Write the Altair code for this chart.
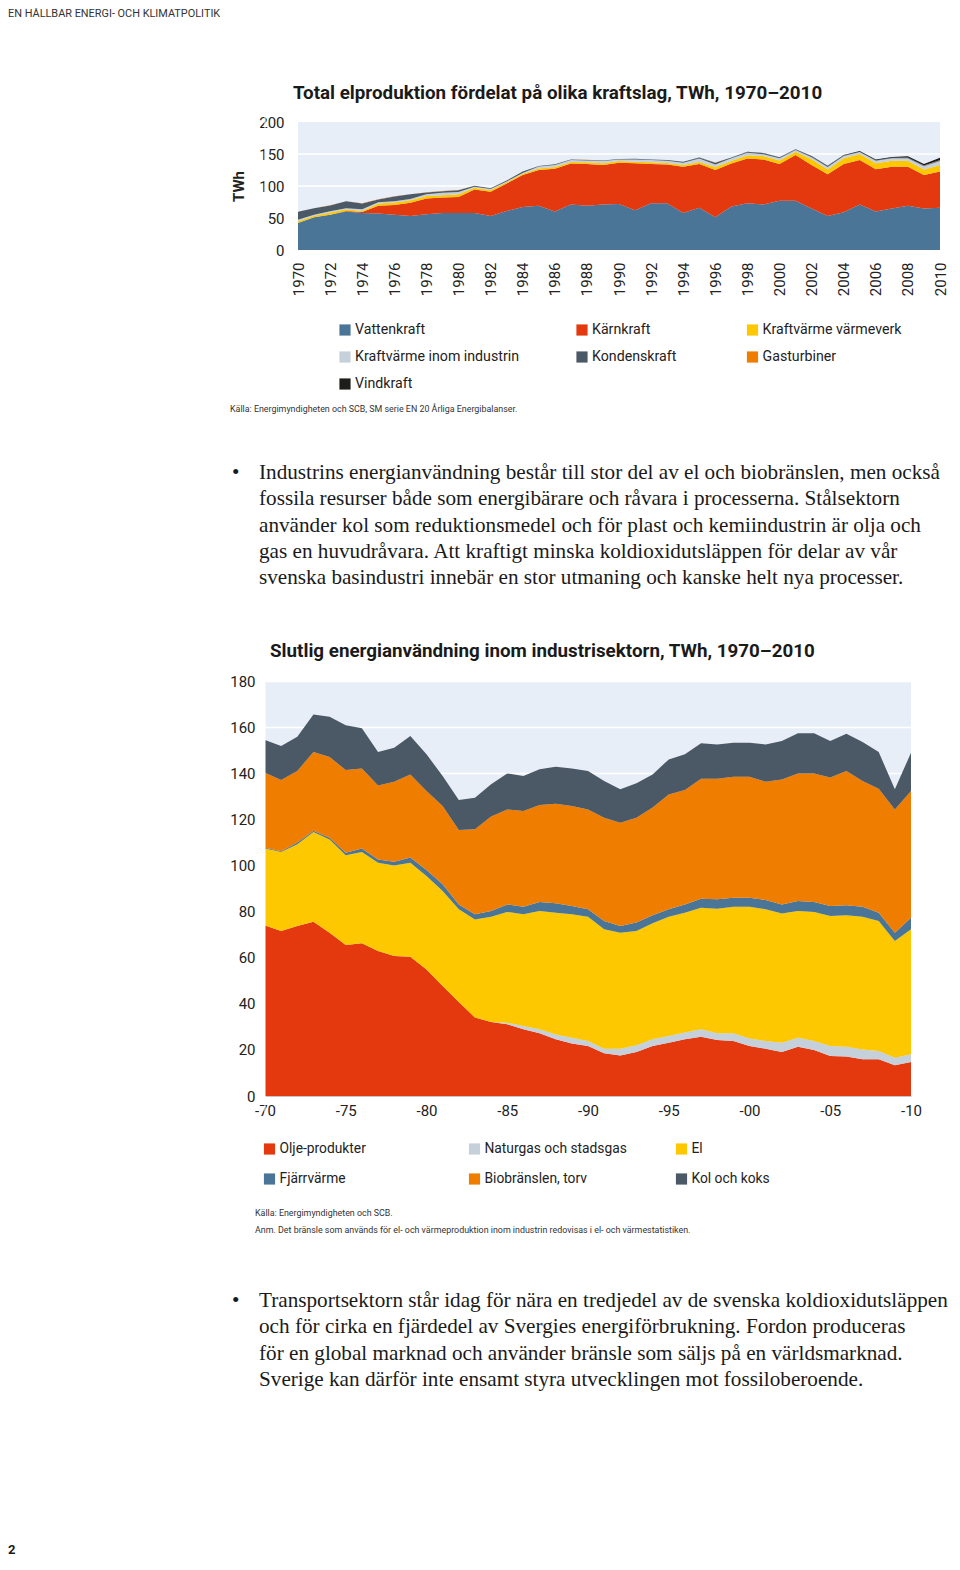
import altair as alt
import pandas as pd

years = list(range(1970, 2011))

# ---------- Chart 1: Total elproduktion (TWh), stacked bottom -> top ----------
top_series = ["Vattenkraft", "Kärnkraft", "Kraftvärme värmeverk",
              "Kraftvärme inom industrin", "Kondenskraft", "Gasturbiner", "Vindkraft"]
top_colors = ["#4b7597", "#e4380f", "#fdc800", "#c5d0da", "#4b5865", "#ef7d00", "#1d1d1b"]

vattenkraft = [42, 51, 55, 60, 58, 57, 55, 53, 56, 58,
               58, 58, 53, 61, 67, 69, 60, 71, 69, 71,
               72, 62, 73, 73, 58, 66, 51, 68, 73, 71,
               77, 77, 65, 53, 59, 71, 60, 65, 69, 65,
               66]
karnkraft = [0, 0, 0, 1, 1.5, 12, 15.5, 21, 24.5, 24,
             25, 36.5, 38, 43, 50, 56, 67, 64, 65.5, 62,
             64.5, 73.5, 61.5, 60.5, 72, 68.5, 74, 67, 70, 70.5,
             57.5, 71.5, 68, 65.5, 75.5, 69.5, 66, 65, 61, 52,
             56.5]
kraftvarme_varmeverk = [3, 2.6, 3.6, 2.5, 1.6, 3.6, 3.7, 3.6, 3.7, 3.6,
                        4.2, 2.6, 2.6, 2, 2, 2.5, 2.5, 2.5, 2.5, 2.5,
                        2.5, 2.5, 2.5, 2.5, 3, 3, 4.5, 4.2, 5.2, 5.2,
                        5.2, 5.2, 8.9, 7.3, 8.8, 9.4, 9.4, 9.4, 9.4, 8.8,
                        10.4]
kraftvarme_industri = [2.1, 1.6, 2.1, 1.6, 2.7, 2.1, 2, 2.1, 3.1, 3.7,
                       3.6, 1.6, 1.6, 1, 1.5, 3, 3.5, 3, 3, 3.5,
                       2.5, 3.5, 3.5, 3.5, 3.5, 5.5, 4, 4, 3.6, 3.1,
                       3.6, 2.6, 3.1, 4, 3.7, 3.1, 4, 4, 4, 5,
                       6]
kondenskraft = [12.5, 9.9, 8.9, 10.9, 8.8, 4.2, 7.3, 7.3, 2.6, 2.6,
                2.6, 1.5, 1.1, 1.5, 2, 0.8, 0.8, 0.8, 0.8, 0.8,
                0.5, 1, 1, 1, 1.2, 1.2, 3, 1.2, 1.2, 1.2,
                1.2, 0.6, 1, 1, 0.6, 0.6, 0.8, 0.6, 1, 1,
                1.5]
gasturbiner = [0.1, 0.1, 0.2, 0.2, 0.3, 0.3, 0.3, 0.3, 0.2, 0.2,
               0.2, 0.1, 0.1, 0.1, 0.1, 0.1, 0.1, 0.1, 0.1, 0.1,
               0.1, 0.1, 0.1, 0.1, 0.1, 0.1, 0.1, 0.1, 0.1, 0.1,
               0.1, 0.1, 0.1, 0.1, 0.1, 0.1, 0.1, 0.1, 0.1, 0.1,
               0.1]
vindkraft = [0, 0, 0, 0, 0, 0, 0, 0, 0, 0,
             0, 0, 0, 0, 0, 0, 0, 0, 0, 0,
             0, 0, 0, 0.1, 0.1, 0.1, 0.1, 0.2, 0.3, 0.4,
             0.4, 0.5, 0.6, 0.6, 0.9, 0.9, 1.0, 1.4, 2.0, 2.5,
             3.5]
top_values = [vattenkraft, karnkraft, kraftvarme_varmeverk, kraftvarme_industri,
              kondenskraft, gasturbiner, vindkraft]

# ---------- Chart 2: Slutlig energianvändning inom industrisektorn (TWh) ----------
bot_series = ["Olje-produkter", "Naturgas och stadsgas", "El",
              "Fjärrvärme", "Biobränslen, torv", "Kol och koks"]
bot_colors = ["#e4380f", "#c5d0da", "#fdc800", "#4b7597", "#ef7d00", "#4b5865"]

olje = [74.0, 71.6, 73.7, 75.6, 70.8, 65.5, 66.2, 62.9, 60.7, 60.4,
        54.9, 47.7, 40.8, 34.0, 32.1, 31.1, 28.9, 27.2, 24.6, 22.8,
        21.7, 18.5, 17.6, 19.1, 21.7, 23.1, 24.6, 25.7, 24.3, 23.9,
        21.7, 20.5, 19.1, 21.4, 20.0, 17.3, 17.1, 15.9, 15.9, 13.3,
        14.7]
naturgas = [0, 0, 0, 0, 0, 0, 0, 0, 0, 0,
            0, 0, 0, 0, 0, 0.7, 1.5, 1.7, 2.1, 2.5,
            2.2, 2.0, 2.9, 2.9, 2.9, 2.9, 2.9, 3.2, 2.9, 3.3,
            3.2, 3.4, 4.0, 3.9, 3.9, 4.4, 4.3, 4.3, 3.6, 3.3,
            3.4]
el = [33.4, 34.2, 35.5, 38.9, 40.5, 38.9, 39.6, 38.3, 39.3, 40.8,
      40.5, 41.2, 40.2, 42.6, 45.7, 48.0, 48.4, 51.3, 52.8, 53.5,
      53.9, 51.8, 50.3, 49.6, 50.3, 51.8, 52.0, 52.8, 54.0, 54.9,
      57.2, 57.1, 56.1, 54.9, 55.9, 56.4, 57.0, 57.6, 56.4, 50.6,
      54.2]
fjarrvarme = [0.3, 0.4, 0.7, 0.6, 0.7, 1.1, 1.5, 1.4, 1.6, 2.2,
              2.6, 2.9, 2.1, 2.2, 2.4, 3.3, 3.3, 3.9, 4.1, 3.6,
              3.2, 3.6, 2.9, 3.6, 3.5, 3.2, 3.6, 3.9, 4.1, 3.9,
              3.9, 4.0, 3.9, 4.4, 4.3, 4.3, 4.3, 4.3, 3.6, 3.6,
              5.0]
biobranslen = [32.5, 30.9, 31.1, 34.1, 35.0, 35.9, 34.7, 32.1, 34.7, 36.1,
               34.3, 34.0, 32.3, 36.9, 41.0, 41.2, 41.5, 42.1, 43.2, 43.4,
               43.3, 44.8, 44.8, 45.5, 46.7, 49.8, 49.6, 52.0, 52.3, 52.5,
               52.5, 51.3, 54.2, 55.3, 55.8, 55.7, 58.3, 54.5, 53.8, 53.5,
               55.0]
kol_koks = [14.2, 14.7, 14.8, 16.3, 17.5, 19.4, 17.5, 14.5, 14.8, 16.6,
            15.9, 13.0, 13.0, 13.7, 14.0, 15.6, 15.2, 15.5, 16.0, 16.2,
            16.7, 15.9, 14.5, 14.9, 14.4, 15.2, 15.5, 15.4, 14.9, 14.7,
            14.7, 16.2, 16.7, 17.4, 17.4, 15.9, 16.1, 16.9, 15.9, 8.7,
            16.6]
bot_values = [olje, naturgas, el, fjarrvarme, biobranslen, kol_koks]

top_domain_x = [1970, 2010]
top_domain_y = [0, 200]
bot_domain_x = [1970, 2010]
bot_domain_y = [0, 180]
top_ticks_x = list(range(1970, 2011, 2))
top_ticks_y = [0, 50, 100, 150, 200]
top_grid_y = [50, 100, 150]
bot_ticks_x = list(range(1970, 2011, 5))
bot_ticks_y = [0, 20, 40, 60, 80, 100, 120, 140, 160, 180]

# ---------- texts ----------
header_text = "EN HÅLLBAR ENERGI- OCH KLIMATPOLITIK"
title_top = "Total elproduktion fördelat på olika kraftslag, TWh, 1970–2010"
title_bot = "Slutlig energianvändning inom industrisektorn, TWh, 1970–2010"
source_top = "Källa: Energimyndigheten och SCB, SM serie EN 20 Årliga Energibalanser."
source_bot = "Källa: Energimyndigheten och SCB."
note_bot = ("Anm. Det bränsle som används för el- och värmeproduktion inom industrin "
            "redovisas i el- och värmestatistiken.")
para1 = ("Industrins energianvändning består till stor del av el och biobränslen, men också\n"
         "fossila resurser både som energibärare och råvara i processerna. Stålsektorn\n"
         "använder kol som reduktionsmedel och för plast och kemiindustrin är olja och\n"
         "gas en huvudråvara. Att kraftigt minska koldioxidutsläppen för delar av vår\n"
         "svenska basindustri innebär en stor utmaning och kanske helt nya processer.")
para2 = ("Transportsektorn står idag för nära en tredjedel av de svenska koldioxidutsläppen\n"
         "och för cirka en fjärdedel av Svergies energiförbrukning. Fordon produceras\n"
         "för en global marknad och använder bränsle som säljs på en världsmarknad.\n"
         "Sverige kan därför inte ensamt styra utvecklingen mot fossiloberoende.")
page_no = "2"

BG = "#e8eef7"
SANS = "Roboto"
SERIF = "Liberation Serif"
INK = "#222222"
PARA_SIZE = 21.2
PARA_LH = 26.3


def long_df(series, arrays, field):
    rows = []
    for k, (name, vals) in enumerate(zip(series, arrays)):
        for yr, v in zip(years, vals):
            rows.append({"year": yr, field: name, "value": v, "ord": k})
    return pd.DataFrame(rows)


def txt(text, x, y, size, font=SANS, weight="normal", color=INK,
        align="left", baseline="middle", line_height=None):
    mk = dict(align=align, baseline=baseline, font=font, fontSize=size,
              fontWeight=weight, color=color)
    if line_height:
        mk.update(lineBreak="\n", lineHeight=line_height)
    return alt.Chart(pd.DataFrame({"t": [text]})).mark_text(**mk).encode(
        x=alt.value(x), y=alt.value(y), text="t:N")


def anchor(x, y1, y2):
    # white layout anchor that fixes the panel's vertical bounds
    return alt.Chart(pd.DataFrame({"a": [0]})).mark_rule(color="white", strokeWidth=1).encode(
        x=alt.value(x), x2=alt.value(x), y=alt.value(y1), y2=alt.value(y2))


def legend(series, colors, field, xs, ys, rows_dom, size=14):
    n = len(series)
    df = pd.DataFrame({field: series,
                       "col": [i % 3 for i in range(n)],
                       "row": [i // 3 for i in range(n)]})
    xenc = alt.X("col:Q", scale=alt.Scale(domain=[0, 1, 2], range=xs, nice=False, zero=False), axis=None)
    yenc = alt.Y("row:Q", scale=alt.Scale(domain=rows_dom, range=ys, nice=False, zero=False), axis=None)
    sq = alt.Chart(df).mark_square(size=125, opacity=1).encode(
        x=xenc, y=yenc,
        color=alt.Color(f"{field}:N", scale=alt.Scale(domain=series, range=colors), legend=None))
    lab = alt.Chart(df).mark_text(align="left", baseline="middle", dx=10, font=SANS,
                                  fontSize=size, color=INK).encode(x=xenc, y=yenc, text=f"{field}:N")
    return [sq, lab]


# Column origin (x = 0) of every row = left edge of chart 2's plot area.

# ---------- Row 1: header + title of chart 1 ----------
row1 = alt.layer(
    txt(header_text, -257, 0, 10.9, color="#333333", baseline="top"),
    txt(title_top, 28, 85, 18.8, weight="bold", color="#1a1a1a"),
).properties(width=660, height=103)

# ---------- Row 2: chart 1 (plot area shifted 33 px right through the x range) ----------
top_xscale = alt.Scale(domain=top_domain_x, range=[33, 675], nice=False, zero=False)
top_yscale = alt.Scale(domain=top_domain_y, nice=False, zero=False)
top_xaxis = alt.Axis(values=top_ticks_x, format="d", labelAngle=-90, labelPadding=12,
                     labelOverlap=False, labelFlush=False, ticks=False, domain=False,
                     grid=False, title=None, labelFont=SANS, labelFontSize=15, labelColor=INK)
top_yaxis = alt.Axis(values=top_ticks_y, offset=-33, labelPadding=14, ticks=False, domain=False,
                     grid=False, title="TWh", titleFont=SANS, titleFontSize=15,
                     titleFontWeight="bold", titleColor=INK, titlePadding=12,
                     labelFont=SANS, labelFontSize=15, labelColor=INK)

top_bg = alt.Chart(pd.DataFrame({"x0": [top_domain_x[0]], "x1": [top_domain_x[1]],
                                 "y0": [top_domain_y[0]], "y1": [top_domain_y[1]]})).mark_rect(
    color=BG).encode(
    x=alt.X("x0:Q", scale=top_xscale, axis=top_xaxis), x2="x1:Q",
    y=alt.Y("y0:Q", scale=top_yscale, axis=top_yaxis), y2="y1:Q")
top_grid = alt.Chart(pd.DataFrame({"v": top_grid_y, "x0": [top_domain_x[0]] * len(top_grid_y),
                                   "x1": [top_domain_x[1]] * len(top_grid_y)})).mark_rule(
    color="white", strokeWidth=1.5).encode(
    x=alt.X("x0:Q", scale=top_xscale, axis=top_xaxis), x2="x1:Q",
    y=alt.Y("v:Q", scale=top_yscale, axis=top_yaxis))
top_area = alt.Chart(long_df(top_series, top_values, "kraftslag")).mark_area(
    interpolate="linear", opacity=1).encode(
    x=alt.X("year:Q", scale=top_xscale, axis=top_xaxis),
    y=alt.Y("value:Q", stack="zero", scale=top_yscale, axis=top_yaxis),
    color=alt.Color("kraftslag:N", sort=top_series,
                    scale=alt.Scale(domain=top_series, range=top_colors), legend=None),
    order=alt.Order("ord:Q", sort="ascending"),
)
row2 = alt.layer(top_bg, top_grid, top_area, anchor(0, -10, 190)).properties(width=675, height=128)

# ---------- Row 3: legend 1, source, paragraph 1, title of chart 2 ----------
row3 = alt.layer(
    *legend(top_series, top_colors, "kraftslag", [80, 317, 487.5], [17, 71], [0, 2], size=14.2),
    txt(source_top, -35, 96, 8.9, color="#333333"),
    txt("•", -33, 166, PARA_SIZE, font=SERIF, color="#1a1a1a", baseline="alphabetic"),
    txt(para1, -6, 166, PARA_SIZE, font=SERIF, color="#1a1a1a", baseline="alphabetic",
        line_height=PARA_LH),
    txt(title_bot, 5, 338, 18.8, weight="bold", color="#1a1a1a"),
).properties(width=660, height=357)

# ---------- Row 4: chart 2 ----------
bot_area = alt.Chart(long_df(bot_series, bot_values, "energislag")).mark_area(
    interpolate="linear", opacity=1).encode(
    x=alt.X("year:Q", scale=alt.Scale(domain=bot_domain_x, nice=False, zero=False),
            axis=alt.Axis(values=bot_ticks_x, format="d",
                          labelExpr="'-' + substring(datum.label, 2)",
                          labelPadding=7, labelFlush=False, ticks=False, domain=True,
                          domainColor="#c3c7cc", domainWidth=1, grid=False, title=None,
                          labelFont=SANS, labelFontSize=15, labelColor=INK)),
    y=alt.Y("value:Q", stack="zero", scale=alt.Scale(domain=bot_domain_y, nice=False),
            axis=alt.Axis(values=bot_ticks_y, labelPadding=10, ticks=False, domain=False,
                          grid=True, gridColor="white", gridWidth=1.5, title=None,
                          labelFont=SANS, labelFontSize=15, labelColor=INK)),
    color=alt.Color("energislag:N", sort=bot_series,
                    scale=alt.Scale(domain=bot_series, range=bot_colors), legend=None),
    order=alt.Order("ord:Q", sort="ascending"),
)
row4 = alt.layer(bot_area, anchor(0, -10, 447)).properties(
    width=646, height=415, view=alt.ViewBackground(fill=BG, stroke=None))

# ---------- Row 5: legend 2, notes, paragraph 2, page number ----------
row5 = alt.layer(
    *legend(bot_series, bot_colors, "energislag", [4.5, 209.5, 416.5], [20, 50], [0, 1], size=13.8),
    txt(source_bot, -10, 84, 8.9, color="#333333"),
    txt(note_bot, -10, 101, 8.9, color="#333333"),
    txt("•", -33, 178, PARA_SIZE, font=SERIF, color="#1a1a1a", baseline="alphabetic"),
    txt(para2, -6, 178, PARA_SIZE, font=SERIF, color="#1a1a1a", baseline="alphabetic",
        line_height=PARA_LH),
    txt(page_no, -257, 421, 13, weight="bold", color="#1a1a1a"),
).properties(width=660, height=428)

chart = alt.vconcat(row1, row2, row3, row4, row5, spacing=0).resolve_scale(
    x="independent", y="independent", color="independent"
).properties(padding=0, background="white").configure_view(stroke=None)

chart.save("out.html", embed_options={"renderer": "svg", "actions": False})
